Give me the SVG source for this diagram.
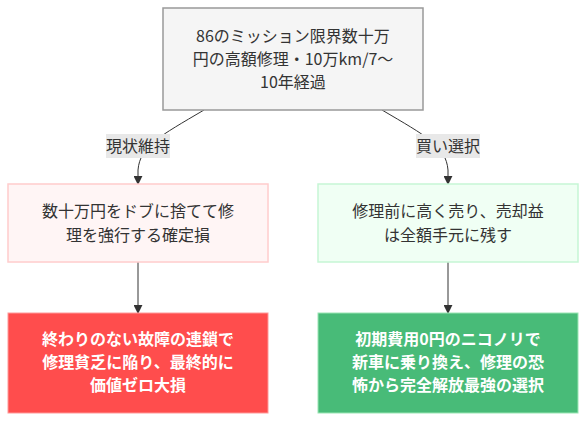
<svg xmlns="http://www.w3.org/2000/svg" width="586" height="422" viewBox="0 0 586 422">
<style>
text{font-family:"Noto Sans CJK JP","Noto Sans",sans-serif;font-size:16px;text-anchor:middle;fill:#333}
.w{fill:#fff;font-weight:bold}
.edge{fill:none;stroke:#333;stroke-width:1}
.lbl{fill:#e8e8e8}
</style>
<defs>
<marker id="arr" viewBox="0 0 10 10" refX="9" refY="5" markerWidth="9" markerHeight="9" markerUnits="userSpaceOnUse" orient="auto">
<path d="M0,0 L10,5 L0,10 Z" fill="#333"/>
</marker>
</defs>
<g id="connectors">
<path class="edge" d="M204,110 C160,136 140,146 138,170 L138,184" marker-end="url(#arr)"/>
<path class="edge" d="M382,110 C426,136 446,146 448,170 L448,184" marker-end="url(#arr)"/>
<path class="edge" d="M138,262 L138,313" marker-end="url(#arr)"/>
<path class="edge" d="M448,262 L448,313" marker-end="url(#arr)"/>
<rect class="lbl" x="106" y="134" width="64" height="24"/>
<text x="138" y="152">現状維持</text>
<rect class="lbl" x="416" y="134" width="64" height="24"/>
<text x="448" y="152">買い選択</text>
</g>
<g id="top">
<rect x="163" y="8" width="260" height="102" fill="#f5f5f5" stroke="#999" stroke-width="1.5"/>
<text x="293" y="42">86のミッション限界数十万</text>
<text x="293" y="65">円の高額修理・10万km/7〜</text>
<text x="293" y="88">10年経過</text>
</g>
<g id="keep">
<rect x="8" y="184" width="260" height="78" fill="#fff5f5" stroke="#ffcccc" stroke-width="1.5"/>
<text x="138" y="217">数十万円をドブに捨てて修</text>
<text x="138" y="241">理を強行する確定損</text>
</g>
<g id="buy">
<rect x="318" y="184" width="260" height="78" fill="#f0fff4" stroke="#c6f6d5" stroke-width="1.5"/>
<text x="448" y="217">修理前に高く売り、売却益</text>
<text x="448" y="241">は全額手元に残す</text>
</g>
<g id="bad">
<rect x="8" y="313" width="260" height="100" fill="#ff4d4d" stroke="#ff9999" stroke-width="1"/>
<text class="w" x="138" y="345">終わりのない故障の連鎖で</text>
<text class="w" x="138" y="368">修理貧乏に陥り、最終的に</text>
<text class="w" x="138" y="391">価値ゼロ大損</text>
</g>
<g id="good">
<rect x="318" y="313" width="260" height="100" fill="#48bb78" stroke="#9ae6b4" stroke-width="1"/>
<text class="w" x="448" y="345">初期費用0円のニコノリで</text>
<text class="w" x="448" y="368">新車に乗り換え、修理の恐</text>
<text class="w" x="448" y="391">怖から完全解放最強の選択</text>
</g>
</svg>
